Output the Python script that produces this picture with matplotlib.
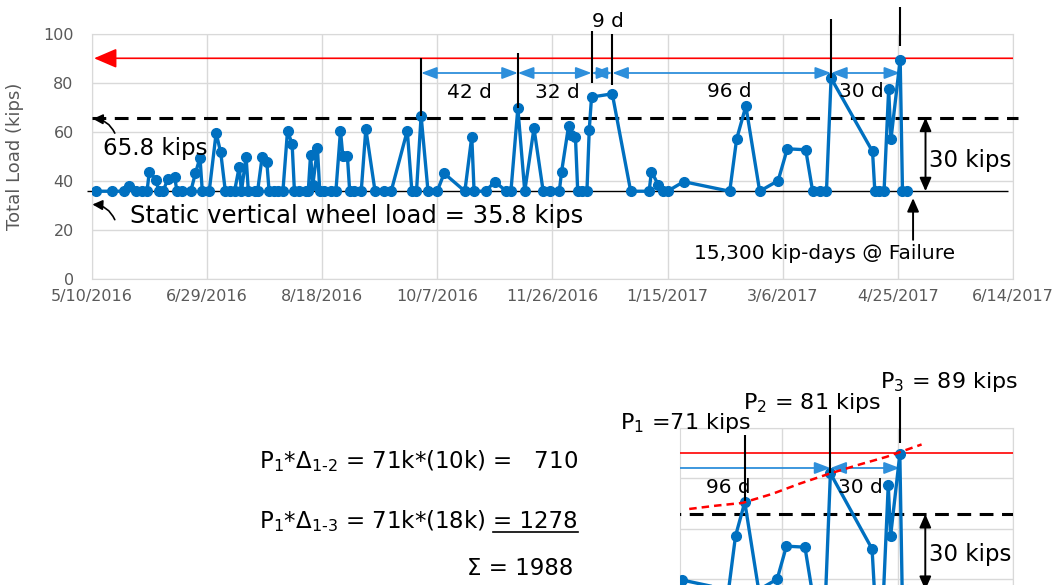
import pandas as pd
import matplotlib
matplotlib.use("Agg")
import matplotlib.pyplot as plt
from matplotlib.lines import Line2D
from matplotlib.patches import FancyArrowPatch
from matplotlib.ticker import FuncFormatter, MultipleLocator

# ---DATA---
start_date = pd.Timestamp("2016-05-10")

# days since 5/10/2016 and measured total load (kips)
day_offset = [2, 9, 14, 16, 19, 22, 24, 25, 28, 29, 31, 33, 36, 37, 39, 43, 45, 47, 48,
              51, 54, 56, 58, 60, 62, 64, 65, 67, 68, 71, 72, 74, 76, 77, 79, 81, 83,
              85, 87, 88, 90, 93, 94, 95, 96, 98, 99, 101, 104, 106, 108, 109, 111,
              112, 114, 117, 119, 123, 127, 130, 137, 139, 141, 143, 146, 150, 153,
              162, 165, 166, 171, 175, 180, 182, 185, 188, 192, 196, 199, 203, 204,
              207, 208, 210, 211, 213, 215, 216, 217, 226, 234, 242, 243, 246, 248,
              250, 257, 277, 280, 284, 290, 298, 302, 310, 313, 316, 319, 321, 339,
              340, 342, 344, 346, 347, 351, 352, 354]
load_kips = [35.8, 35.8, 35.8, 38.0, 35.8, 35.8, 35.8, 43.8, 40.4, 35.8, 35.8, 40.8, 41.5,
             35.8, 35.8, 35.8, 43.1, 49.5, 35.8, 35.8, 59.5, 51.6, 35.8, 35.8, 35.8, 45.6,
             35.8, 49.9, 35.8, 35.8, 35.8, 49.9, 47.9, 35.8, 35.8, 35.8, 35.8, 60.5, 55.0,
             35.8, 35.8, 35.8, 35.8, 50.6, 38.5, 53.3, 35.8, 35.8, 35.8, 35.8, 60.5, 50.2,
             50.0, 35.8, 35.8, 35.8, 61.2, 35.8, 35.8, 35.8, 60.5, 35.8, 35.8, 66.5, 35.8,
             35.8, 43.1, 35.8, 58.1, 35.8, 35.8, 39.7, 35.8, 35.8, 69.7, 35.8, 61.5, 35.8,
             35.8, 35.8, 43.8, 62.2, 58.8, 58.1, 35.8, 35.8, 35.8, 60.8, 74.2, 75.5, 35.8,
             35.8, 43.8, 38.4, 35.8, 35.8, 39.7, 35.8, 57.1, 70.5, 35.8, 40.1, 53.1, 52.7,
             35.8, 35.8, 35.8, 81.9, 52.0, 35.8, 35.8, 35.8, 77.4, 57.0, 89.5, 35.8, 35.8]

static_load = 35.8
threshold_load = 65.8
failure_load = 90
gap_arrow_level = 84

# spikes bounding the labelled intervals
spike_days = [143, 185, 217, 226, 321, 351]
spike_line_bottom = [66.5, 69.7, 80, 79, 81.9, 95]
spike_line_top = [90, 92, 101, 100, 106, 111]
gap_labels = ["42 d", "32 d", "9 d", "96 d", "30 d"]
gap_label_day = [164, 202, 224, 277, 334]
gap_label_load = [76, 76, 105, 76.4, 76.4]

# dashed red trend through P1, P2, P3 (lower panel)
trend_day = [260, 271.5, 283, 296, 307.7, 320.7, 333.7, 345.2, 360.4]
trend_load = [67.8, 69.1, 70.2, 73.8, 77.8, 81.8, 85.4, 88.4, 93.3]

p_labels = [r"P$_1$ =71 kips", r"P$_2$ = 81 kips", r"P$_3$ = 89 kips"]
p_days = [284, 321, 351]
p_line_bottom = [71, 82, 94]
p_line_top = [97, 105, 112]
p_label_day = [258.4, 313.2, 372.1]
p_label_load = [101.8, 109.7, 118]

eq_lines = [r"P$_1$*Δ$_{1‑2}$ = 71k*(10k) =   710",
            r"P$_1$*Δ$_{1‑3}$ = 71k*(18k)",
            "= 1278",
            "Σ = 1988"]

blue = "#0070C0"
arrow_blue = "#2E8FDB"
grid_gray = "#D9D9D9"
text_gray = "#595959"

plt.rcParams['font.family'] = ['DejaVu Sans']
plt.rcParams['mathtext.default'] = 'regular'


def day_label(d, pos):
    t = start_date + pd.Timedelta(days=int(round(d)))
    return f"{t.month}/{t.day}/{t.year}"


def style_axes(ax):
    ax.grid(True, color=grid_gray, lw=1)
    ax.set_axisbelow(True)
    for s in ax.spines.values():
        s.set_color(grid_gray)
    ax.xaxis.set_major_locator(MultipleLocator(50))
    ax.yaxis.set_major_locator(MultipleLocator(20))


def arrow(ax, a, b, style, color, lw=1.4):
    '''straight arrow in data coords, clipped to the axes'''
    p = FancyArrowPatch(a, b, arrowstyle=style, color=color, lw=lw,
                        shrinkA=0, shrinkB=0, mutation_scale=10, zorder=3)
    ax.add_patch(p)


def draw_common(ax, blue_from, dash_clip):
    '''data series and reference lines shared by both panels'''
    ax.plot(day_offset, load_kips, color=blue, lw=2.4, marker='o', ms=7, zorder=4)
    ax.hlines(threshold_load, 0, 402, colors='black', lw=2.2,
              linestyles=(0, (4.5, 2.8)), zorder=3, clip_on=dash_clip)
    for a, b in zip(spike_days[blue_from:-1], spike_days[blue_from + 1:]):
        arrow(ax, (a, gap_arrow_level), (b, gap_arrow_level),
              '<|-|>,head_length=0.95,head_width=0.36', arrow_blue, 1.3)
    # 30 kips span
    arrow(ax, (362, threshold_load), (362, static_load),
          '<|-|>,head_length=0.8,head_width=0.35', 'black')


fig = plt.figure(figsize=(10.57, 5.85), dpi=100)

# ---TOP CHART---
ax = fig.add_axes([0.0868, 0.523, 0.8716, 0.4193])
style_axes(ax)
ax.set_xlim(0, 400)
ax.set_ylim(0, 100)
ax.xaxis.set_major_formatter(FuncFormatter(day_label))
ax.tick_params(length=0, labelsize=11.5, colors=text_gray)
ax.tick_params(axis='y', pad=13)
ax.tick_params(axis='x', pad=7)
ax.set_ylabel("Total Load (kips)", fontsize=13, color=text_gray)
ax.yaxis.set_label_coords(-0.074, 0.5)

ax.hlines(static_load, -2, 398, colors='black', lw=1, zorder=3, clip_on=False)
draw_common(ax, 0, False)
arrow(ax, (400, failure_load), (1, failure_load),
      '-|>,head_length=1.4,head_width=0.6', 'red', 1.2)
ax.vlines(spike_days, spike_line_bottom, spike_line_top, colors='black', lw=1.5,
          zorder=5, clip_on=False)
for lab, d, v in zip(gap_labels, gap_label_day, gap_label_load):
    ax.text(d, v, lab, fontsize=14.5, ha='center', va='center', zorder=6, clip_on=False)

ax.text(363.5, 48.2, "30 kips", fontsize=16.5, va='center', ha='left')
ax.text(5, 53.3, "65.8 kips", fontsize=16.5, va='center', ha='left', zorder=6)
ax.annotate('', xy=(0.5, 65.3), xytext=(10, 59.5),
            arrowprops=dict(arrowstyle='-|>,head_length=0.6,head_width=0.3', color='black',
                            lw=1.2, connectionstyle='arc3,rad=0.3', shrinkA=0, shrinkB=0))
ax.text(16.6, 25.7, "Static vertical wheel load = 35.8 kips", fontsize=17.5,
        va='center', ha='left')
ax.annotate('', xy=(0.3, 30.4), xytext=(10, 24.2),
            arrowprops=dict(arrowstyle='-|>,head_length=0.6,head_width=0.3', color='black',
                            lw=1.2, connectionstyle='arc3,rad=0.3', shrinkA=0, shrinkB=0))
ax.text(318.3, 10.4, "15,300 kip-days @ Failure", fontsize=14.5, ha='center', va='center')
arrow(ax, (356.6, 16), (356.6, 33), '-|>,head_length=0.8,head_width=0.35', 'black')

# ---LOWER ZOOMED PANEL---
ax2 = fig.add_axes([0.6433, -0.0335, 0.3153, 0.3027])
style_axes(ax2)
ax2.set_xlim(256, 400)
ax2.set_ylim(30, 100)
ax2.tick_params(length=0, labelbottom=False, labelleft=False)
ax2.hlines(failure_load, 0, 400, colors='red', lw=1.2, zorder=3)
draw_common(ax2, 3, True)
ax2.plot(trend_day, trend_load, color='red', lw=1.8, ls=(0, (3, 2)), zorder=5)
ax2.vlines(p_days, p_line_bottom, p_line_top, colors='black', lw=1.5, zorder=5,
           clip_on=False)
for lab, d, v in zip(p_labels, p_label_day, p_label_load):
    ax2.text(d, v, lab, fontsize=16, ha='center', va='center', clip_on=False)
for lab, d, v in zip(gap_labels[3:], gap_label_day[3:], gap_label_load[3:]):
    ax2.text(d, v, lab, fontsize=14.5, ha='center', va='center', zorder=6)
ax2.text(363.5, 50, "30 kips", fontsize=16.5, va='center', ha='left')

# ---EQUATIONS---
line1 = fig.text(0.5468, 0.2, eq_lines[0], fontsize=16.5, ha='right', va='baseline')
under = fig.text(0.5468, 0.0974, eq_lines[2], fontsize=16.5, ha='right', va='baseline')
fig.text(0.5421, 0.0171, eq_lines[3], fontsize=16.5, ha='right', va='baseline')

fig.canvas.draw()
rend = fig.canvas.get_renderer()
inv = fig.transFigure.inverted()
left = inv.transform((line1.get_window_extent(rend).x0, 0))[0]
fig.text(left, 0.0974, eq_lines[1], fontsize=16.5, ha='left', va='baseline')
bb = under.get_window_extent(rend)
x0, y0 = inv.transform((bb.x0, bb.y0 + 1))
x1, _ = inv.transform((bb.x1, bb.y0 + 1))
fig.add_artist(Line2D([x0, x1], [y0, y0], color='black', lw=1.2))

fig.savefig("out.png", dpi=100)
